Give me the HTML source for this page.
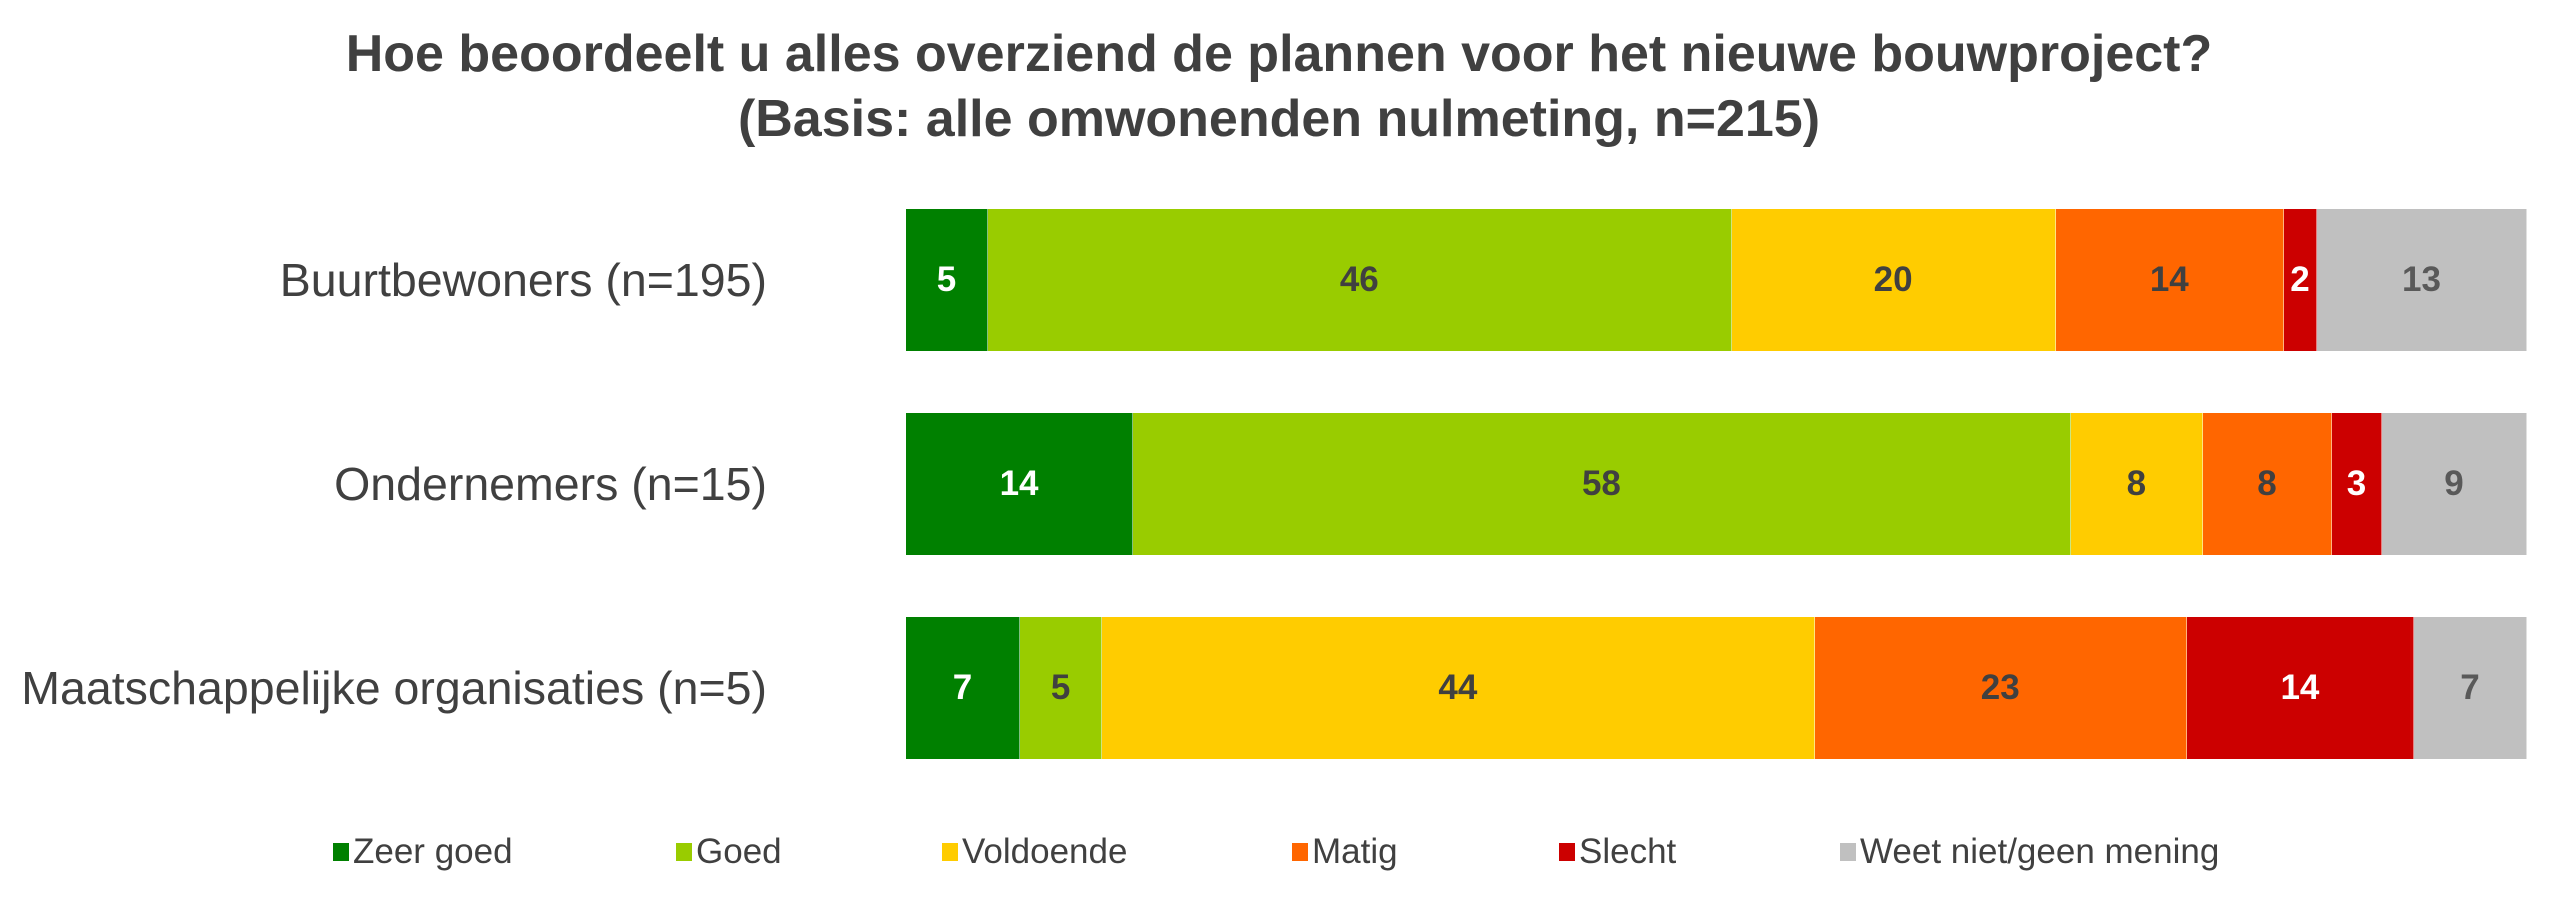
<!DOCTYPE html>
<html><head><meta charset="utf-8"><style>
body{margin:0;width:2560px;height:897px;background:#fff;font-family:"Liberation Sans",Arial,sans-serif;position:relative;overflow:hidden}
.title{position:absolute;left:0;width:2558px;text-align:center;font-weight:bold;font-size:52px;color:#404040;line-height:64px}
.lab{position:absolute;right:1793px;font-size:46.5px;color:#404040;height:142px;line-height:142px;white-space:nowrap}
.bar{position:absolute;left:906px;width:1621px;height:142px;display:flex}
.bar div{display:flex;align-items:center;justify-content:center;font-weight:bold;font-size:35px;color:#404040;box-sizing:border-box;border-right:1px solid rgba(255,255,255,.5)}
.a{background:#008000;color:#fff!important}.b{background:#99cc00}.c{background:#ffcc00}.d{background:#ff6600}.e{background:#cc0000;color:#fff!important}.f{background:#c0c0c0;color:#595959!important}
.leg{position:absolute;top:832px;font-size:35px;color:#404040;display:flex;align-items:center;white-space:nowrap}
.leg span{display:inline-block;width:16px;height:18px;margin-right:4px}
</style></head><body>
<div class="title" style="top:22px">Hoe beoordeelt u alles overziend de plannen voor het nieuwe bouwproject?</div>
<div class="title" style="top:87px">(Basis: alle omwonenden nulmeting, n=215)</div>
<div class="lab" style="top:209px">Buurtbewoners (n=195)</div>
<div class="lab" style="top:413px">Ondernemers (n=15)</div>
<div class="lab" style="top:617px">Maatschappelijke organisaties (n=5)</div>
<div class="bar" style="top:209px"><div class="a" style="flex:76">5</div><div class="b" style="flex:696">46</div><div class="c" style="flex:303">20</div><div class="d" style="flex:213">14</div><div class="e" style="flex:30">2</div><div class="f" style="flex:196">13</div></div>
<div class="bar" style="top:413px"><div class="a" style="flex:212">14</div><div class="b" style="flex:878">58</div><div class="c" style="flex:123">8</div><div class="d" style="flex:120">8</div><div class="e" style="flex:46">3</div><div class="f" style="flex:135">9</div></div>
<div class="bar" style="top:617px"><div class="a" style="flex:106">7</div><div class="b" style="flex:76">5</div><div class="c" style="flex:667">44</div><div class="d" style="flex:348">23</div><div class="e" style="flex:212">14</div><div class="f" style="flex:105">7</div></div>
<div class="leg" style="left:333px"><span class="a"></span>Zeer goed</div>
<div class="leg" style="left:676px"><span class="b"></span>Goed</div>
<div class="leg" style="left:942px"><span class="c"></span>Voldoende</div>
<div class="leg" style="left:1292px"><span class="d"></span>Matig</div>
<div class="leg" style="left:1559px"><span class="e"></span>Slecht</div>
<div class="leg" style="left:1840px"><span class="f"></span>Weet niet/geen mening</div>
</body></html>
